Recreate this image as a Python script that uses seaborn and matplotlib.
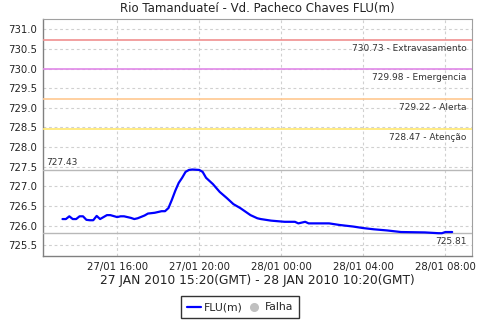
import matplotlib
matplotlib.use("Agg")
import matplotlib.pyplot as plt
import matplotlib.dates as mdates
from matplotlib.lines import Line2D
import seaborn as sns
import pandas as pd

times = ["27/01 13:20", "27/01 13:30", "27/01 13:40", "27/01 13:50", "27/01 14:00",
         "27/01 14:10", "27/01 14:20", "27/01 14:30", "27/01 14:40", "27/01 14:50",
         "27/01 15:00", "27/01 15:10", "27/01 15:20", "27/01 15:30", "27/01 15:40",
         "27/01 16:00", "27/01 16:10", "27/01 16:20", "27/01 16:40", "27/01 16:50",
         "27/01 17:00", "27/01 17:20", "27/01 17:30", "27/01 17:50", "27/01 18:10",
         "27/01 18:20", "27/01 18:30", "27/01 18:40", "27/01 18:50", "27/01 19:00",
         "27/01 19:10", "27/01 19:20", "27/01 19:30", "27/01 19:40", "27/01 20:00",
         "27/01 20:10", "27/01 20:20", "27/01 20:40", "27/01 21:00", "27/01 21:20",
         "27/01 21:40", "27/01 22:00", "27/01 22:30", "27/01 22:50", "27/01 23:00",
         "27/01 23:30", "28/01 00:10", "28/01 00:40", "28/01 00:50", "28/01 01:10",
         "28/01 01:20", "28/01 02:20", "28/01 02:50", "28/01 03:30", "28/01 04:00",
         "28/01 04:30", "28/01 05:10", "28/01 05:50", "28/01 07:00", "28/01 07:40",
         "28/01 07:50", "28/01 08:00", "28/01 08:20"]
levels = [726.17, 726.17, 726.24, 726.17, 726.17,
          726.24, 726.24, 726.15, 726.14, 726.14,
          726.25, 726.17, 726.22, 726.27, 726.27,
          726.22, 726.24, 726.24, 726.20, 726.17,
          726.19, 726.26, 726.31, 726.33, 726.37,
          726.37, 726.45, 726.66, 726.89, 727.09,
          727.22, 727.37, 727.42, 727.43, 727.42,
          727.37, 727.22, 727.06, 726.86, 726.71,
          726.55, 726.45, 726.27, 726.19, 726.17,
          726.13, 726.10, 726.10, 726.06, 726.10,
          726.06, 726.06, 726.02, 725.98, 725.94,
          725.91, 725.88, 725.84, 725.83, 725.81,
          725.81, 725.84, 725.84]

threshold_values = [730.73, 729.98, 729.22, 728.47]
threshold_names = ["Extravasamento", "Emergencia", "Alerta", "Atenção"]
threshold_colors = ["#f09090", "#e088e8", "#ffc890", "#ffe870"]
max_value = 727.43
min_value = 725.81

title = "Rio Tamanduateí - Vd. Pacheco Chaves FLU(m)"
xlabel = "27 JAN 2010 15:20(GMT) - 28 JAN 2010 10:20(GMT)"

df = pd.DataFrame({
    "time": pd.to_datetime(["2010/" + t[3:5] + "/" + t[0:2] + " " + t[6:] for t in times]),
    "level": levels,
})

sns.set_theme(style="white")
plt.rcParams["font.family"] = ["DejaVu Sans"]

fig = plt.figure(figsize=(4.8, 3.2), dpi=100)
ax = fig.add_axes([43 / 480, 1 - 256 / 320, (472 - 43) / 480, (256 - 19) / 320])

sns.lineplot(data=df, x="time", y="level", ax=ax, color="#0000ff", linewidth=1.6, zorder=5)

ax.set_ylim(725.23, 731.26)
ax.set_xlim(pd.Timestamp("2010-01-27 12:23"), pd.Timestamp("2010-01-28 09:18"))
ax.set_yticks([725.5 + 0.5 * i for i in range(12)])
ax.yaxis.set_major_formatter(matplotlib.ticker.FormatStrFormatter("%.1f"))
ax.xaxis.set_major_locator(mdates.HourLocator(byhour=[0, 4, 8, 12, 16, 20]))
ax.xaxis.set_major_formatter(mdates.DateFormatter("%d/%m %H:%M"))

ax.grid(True, color="#d0d0d0", linestyle=(0, (2.5, 2.5)), linewidth=0.8)
ax.set_axisbelow(True)

for v, n, c in zip(threshold_values, threshold_names, threshold_colors):
    ax.axhline(v, color=c, linewidth=1.2, zorder=3)
    ax.annotate(f"{v:.2f} - {n}", xy=(1, v), xycoords=("axes fraction", "data"),
                xytext=(-4, -3), textcoords="offset points", ha="right", va="top",
                fontsize=6.5, color="#333333")

ax.axhline(max_value, color="#b8b8b8", linewidth=1.0, zorder=3)
ax.axhline(min_value, color="#b8b8b8", linewidth=1.0, zorder=3)
ax.annotate(f"{max_value:.2f}", xy=(0, max_value), xycoords=("axes fraction", "data"),
            xytext=(2, 2), textcoords="offset points", ha="left", va="bottom",
            fontsize=6.5, color="#333333")
ax.annotate(f"{min_value:.2f}", xy=(1, min_value), xycoords=("axes fraction", "data"),
            xytext=(-4, -3), textcoords="offset points", ha="right", va="top",
            fontsize=6.5, color="#333333")

for s in ["left", "bottom"]:
    ax.spines[s].set_color("#808080")
    ax.spines[s].set_linewidth(1.0)
for s in ["top", "right"]:
    ax.spines[s].set_color("#a0a0a0")
    ax.spines[s].set_linewidth(0.8)

ax.tick_params(axis="both", labelsize=7.3, colors="#808080", labelcolor="#222222",
               length=2, width=0.8, direction="out", pad=2)
ax.set_ylabel("")
ax.set_xlabel(xlabel, fontsize=8.8, color="#222222", labelpad=2)
ax.set_title(title, fontsize=8.5, color="#222222", pad=5)

handles = [Line2D([0], [0], color="#0000ff", linewidth=1.6),
           Line2D([0], [0], color="#c0c0c0", marker="o", linestyle="none", markersize=5.5)]
leg = fig.legend(handles, ["FLU(m)", "Falha"], loc="lower center", bbox_to_anchor=(0.5, 0.0),
                 ncol=2, fontsize=7.8, frameon=True, fancybox=False, handlelength=1.3,
                 handletextpad=0.3, columnspacing=0.4, borderpad=0.55, borderaxespad=0.15)
leg.get_frame().set_edgecolor("black")
leg.get_frame().set_linewidth(1.0)

fig.savefig("out.png", dpi=100)
